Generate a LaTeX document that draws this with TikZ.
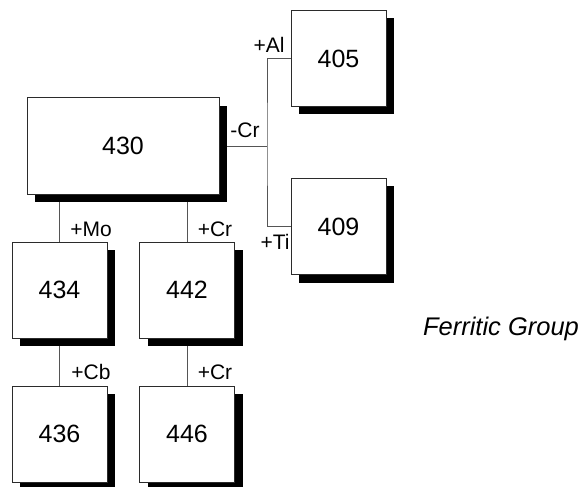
\documentclass[tikz,border=0pt]{standalone}
\usepackage{fontspec}
\setmainfont{Liberation Sans}
\usetikzlibrary{shadows, backgrounds}
\definecolor{mDark}{HTML}{2B2B2B}
\definecolor{mLine}{HTML}{555555}
\tikzset{
  gbox/.style={draw=mDark, fill=white, line width=1pt, minimum width=95pt,
               minimum height=96pt, inner sep=0pt,
               font=\fontsize{25}{30}\selectfont,
               drop shadow={shadow xshift=8pt, shadow yshift=-8pt,
                            fill=black, opacity=1}},
  glink/.style={mLine, line width=0.9pt},
  glabel/.style={inner sep=0pt, font=\fontsize{21}{25}\selectfont},
}

\begin{document}
\begin{tikzpicture}[x=1pt, y=-1pt]
    \useasboundingbox (0,0) rectangle (582,487);
    \node[gbox, minimum width=192pt] (g430) at (123,146) {430};
    \node[gbox] (g405) at (338.5,58.5) {405};
    \node[gbox] (g409) at (338.5,226.5) {409};
    \node[gbox] (g434) at (59.5,290) {434};
    \node[gbox] (g442) at (187,290) {442};
    \node[gbox] (g436) at (59.5,434) {436};
    \node[gbox] (g446) at (187,434) {446};
    \coordinate (split) at (267,146);
    \begin{scope}[on background layer]
      \draw[glink] (g430.east) -- (split);
      \draw[glink] (g405.west) -| (split) |- (g409.west);
      \draw[glink] (g430.south -| g434.north) -- (g434.north);
      \draw[glink] (g430.south -| g442.north) -- (g442.north);
      \draw[glink] (g434.south) -- (g436.north);
      \draw[glink] (g442.south) -- (g446.north);
    \end{scope}
    \node[glabel] (lCr)  at (245,130) {-Cr};
    \node[glabel] (lAl)  at (269,45)  {+Al};
    \node[glabel] (lTi)  at (275,242) {+Ti};
    \node[glabel] (lMo)  at (91,229)  {+Mo};
    \node[glabel] (lCr2) at (215,229) {+Cr};
    \node[glabel] (lCb)  at (91,372)  {+Cb};
    \node[glabel] (lCr3) at (215,372) {+Cr};
    \node[font=\fontsize{25.5}{30}\selectfont\itshape, inner sep=0pt] (title)
      at (501,329) {Ferritic Group};
\end{tikzpicture}
\end{document}
